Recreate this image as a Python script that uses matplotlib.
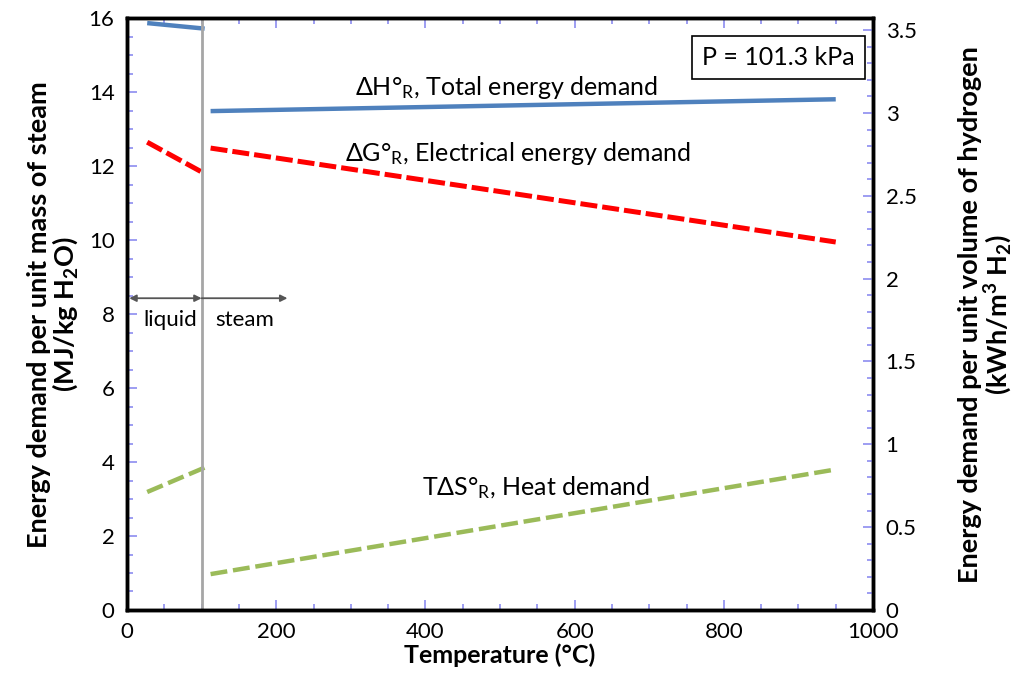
import matplotlib.pyplot as plt
from matplotlib.ticker import MultipleLocator, FormatStrFormatter

plt.rcParams['font.family'] = ['Lato', 'DejaVu Sans']
plt.rcParams['mathtext.fontset'] = 'custom'
plt.rcParams['mathtext.rm'] = 'Lato'
plt.rcParams['mathtext.it'] = 'Lato:italic'
plt.rcParams['mathtext.bf'] = 'Lato:bold'

# liquid water region (left of 100 C) and steam region
temp_liq = [27, 104]
dH_liq = [15.87, 15.72]
dG_liq = [12.65, 11.80]
TdS_liq = [3.19, 3.85]

temp_steam = [112, 950]
dH_steam = [13.49, 13.81]
dG_steam = [12.49, 9.95]
TdS_steam = [0.97, 3.80]

conv = 4.48  # MJ/kg H2O -> kWh/m3 H2

blue, red, green = "#4F81BD", "#FF0000", "#9BBB59"
tickc = "#8C8CF0"

fig = plt.figure(figsize=(10.18, 6.77), dpi=100)
ax = fig.add_axes([0.1248, 0.099, 0.7328, 0.874])

ax.plot(temp_liq, dH_liq, color=blue, lw=3.2, solid_capstyle="butt")
ax.plot(temp_steam, dH_steam, color=blue, lw=3.2, solid_capstyle="butt")
ax.plot(temp_liq, dG_liq, color=red, lw=3.6, dashes=(3.4, 1.0))
ax.plot(temp_steam, dG_steam, color=red, lw=3.6, dashes=(3.4, 1.0))
ax.plot(temp_liq, TdS_liq, color=green, lw=3.2, dashes=(3.8, 1.3))
ax.plot(temp_steam, TdS_steam, color=green, lw=3.2, dashes=(3.8, 1.3))

ax.axvline(100, color="#A6A6A6", lw=2)

# liquid / steam arrows
ax.annotate("", xy=(3, 8.43), xytext=(100, 8.43),
            arrowprops=dict(arrowstyle="<|-|>", color="#555555", lw=1.3, shrinkA=0, shrinkB=0))
ax.annotate("", xy=(215, 8.43), xytext=(100, 8.43),
            arrowprops=dict(arrowstyle="-|>", color="#555555", lw=1.3, shrinkA=0, shrinkB=0))
ax.text(58, 7.84, "liquid", ha="center", va="center", fontsize=16)
ax.text(158, 7.84, "steam", ha="center", va="center", fontsize=16)

ax.text(306, 14.13, r"ΔH°$_\mathregular{R}$, Total energy demand", fontsize=18, va="center")
ax.text(292, 12.35, r"ΔG°$_\mathregular{R}$, Electrical energy demand", fontsize=18, va="center")
ax.text(395, 3.30, r"TΔS°$_\mathregular{R}$, Heat demand", fontsize=18, va="center")
ax.text(873, 14.95, "P = 101.3 kPa", fontsize=18, ha="center", va="center",
        bbox=dict(boxstyle="square,pad=0.4", fc="white", ec="black", lw=1.2))

ax.set_xlim(0, 1000)
ax.set_ylim(0, 16)
ax.xaxis.set_major_locator(MultipleLocator(200))
ax.xaxis.set_minor_locator(MultipleLocator(50))
ax.yaxis.set_major_locator(MultipleLocator(2))
ax.yaxis.set_minor_locator(MultipleLocator(0.5))
ax.tick_params(which="both", direction="in", colors=tickc, labelcolor="black",
               labelsize=16, top=True)
ax.tick_params(which="major", length=7, width=1.2, pad=9)
ax.tick_params(which="minor", length=4, width=1.2)
for s in ax.spines.values():
    s.set_linewidth(2.5)

ax.set_xlabel("Temperature (°C)", fontsize=18, fontweight="bold", labelpad=1)
ax.set_ylabel("Energy demand per unit mass of steam\n(MJ/kg H$_\\mathbf{2}$O)",
              fontsize=19.5, fontweight="bold", labelpad=6, linespacing=1.0)

ax2 = ax.twinx()
ax2.set_ylim(0, 16 / conv)
ax2.yaxis.set_major_locator(MultipleLocator(0.5))
ax2.yaxis.set_minor_locator(MultipleLocator(0.1))
ax2.yaxis.set_major_formatter(FormatStrFormatter("%g"))
ax2.tick_params(which="both", direction="in", colors=tickc, labelcolor="black", labelsize=16)
ax2.tick_params(which="major", length=7, width=1.2, pad=9)
ax2.tick_params(which="minor", length=4, width=1.2)
ax2.set_ylabel("Energy demand per unit volume of hydrogen\n(kWh/m$^\\mathbf{3}$ H$_\\mathbf{2}$)",
               fontsize=19.5, fontweight="bold", labelpad=30, linespacing=1.0)
for s in ax2.spines.values():
    s.set_linewidth(2.5)

fig.savefig("out.png", dpi=100)
